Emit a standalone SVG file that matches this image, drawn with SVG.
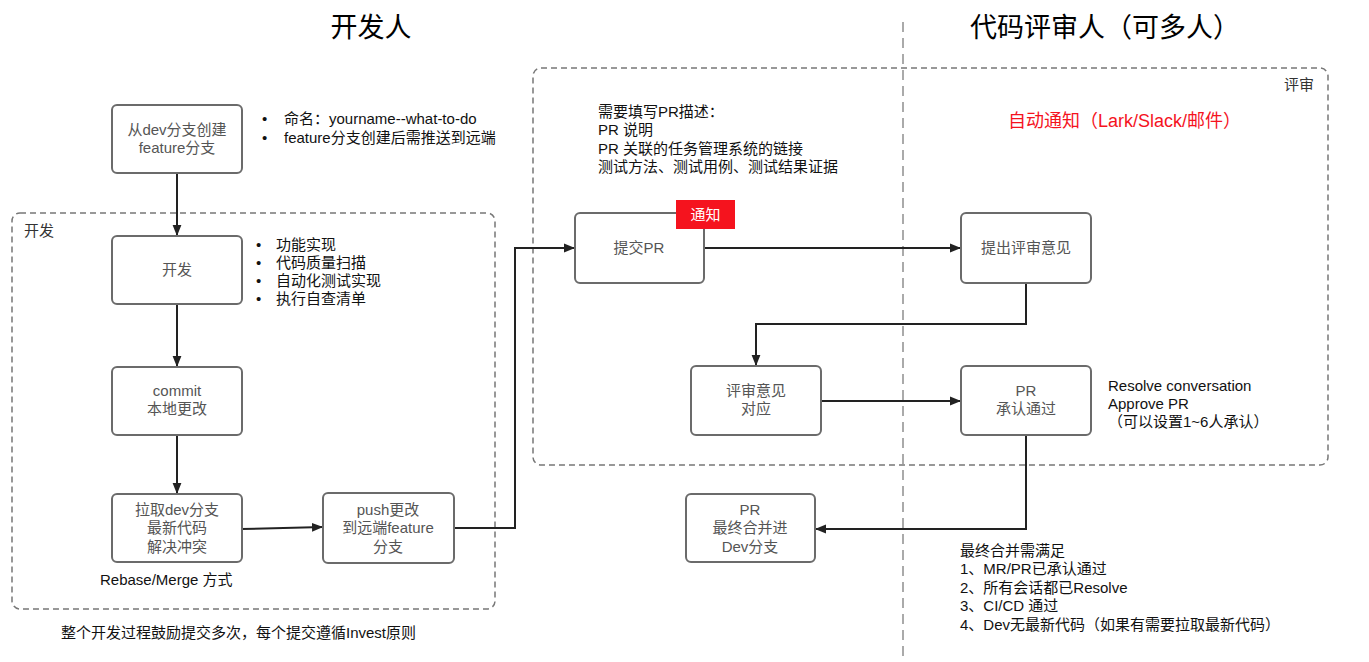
<svg xmlns="http://www.w3.org/2000/svg" width="1369" height="662" viewBox="0 0 1369 662">
<defs>
<style>
text{font-family:"Liberation Sans","Noto Sans CJK SC",sans-serif;}
.node rect.box{fill:#fff;stroke:#6b6b6b;stroke-width:2;}
.nt{font-size:15px;fill:#555;text-anchor:middle;}
.an{font-size:15px;fill:#111;}
.title{font-size:27px;fill:#000;text-anchor:middle;}
.grp{fill:none;stroke:#777;stroke-width:1.5;stroke-dasharray:6 4;}
.conn path{fill:none;stroke:#222;stroke-width:2;}
</style>
<marker id="arr" viewBox="0 0 10 10" refX="10" refY="5" markerWidth="11" markerHeight="11" markerUnits="userSpaceOnUse" orient="auto"><path d="M0,1 L10,5 L0,9 z" fill="#222"/></marker>
</defs>
<rect width="1369" height="662" fill="#fff"/>

<!-- swimlane divider and titles -->
<line x1="903" y1="22" x2="903" y2="662" stroke="#aaa" stroke-width="2" stroke-dasharray="10 6"/>
<text class="title" x="371" y="37">开发人</text>
<text class="title" x="1105" y="37">代码评审人（可多人）</text>

<!-- groups -->
<g id="group-dev">
<rect class="grp" x="12" y="213" width="483" height="396" rx="8"/>
<text x="24" y="236" font-size="15" fill="#333">开发</text>
</g>
<g id="group-review">
<rect class="grp" x="533" y="68" width="795" height="397" rx="8"/>
<text x="1284" y="90" font-size="15" fill="#333">评审</text>
</g>

<!-- connectors -->
<g id="connectors" class="conn">
<path d="M177,173 V236" marker-end="url(#arr)"/>
<path d="M177,304 V367" marker-end="url(#arr)"/>
<path d="M177,435 V494" marker-end="url(#arr)"/>
<path d="M241,529 L323,527" marker-end="url(#arr)"/>
<path d="M454,528 H515 V248 H575" marker-end="url(#arr)"/>
<path d="M704,248 H961" marker-end="url(#arr)"/>
<path d="M1026,283 V324 H756 V366" marker-end="url(#arr)"/>
<path d="M821,401 H961" marker-end="url(#arr)"/>
<path d="M1026,435 V529 H815" marker-end="url(#arr)"/>
</g>

<!-- nodes -->
<g id="node-create" class="node">
<rect class="box" x="112" y="105" width="130" height="68" rx="5"/>
<text class="nt" x="177" y="135">从dev分支创建</text>
<text class="nt" x="177" y="153">feature分支</text>
</g>
<g id="node-develop" class="node">
<rect class="box" x="112" y="236" width="130" height="68" rx="5"/>
<text class="nt" x="177" y="275">开发</text>
</g>
<g id="node-commit" class="node">
<rect class="box" x="112" y="367" width="130" height="68" rx="5"/>
<text class="nt" x="177" y="396">commit</text>
<text class="nt" x="177" y="414">本地更改</text>
</g>
<g id="node-pull" class="node">
<rect class="box" x="112" y="494" width="130" height="68" rx="5"/>
<text class="nt" x="177" y="515">拉取dev分支</text>
<text class="nt" x="177" y="533">最新代码</text>
<text class="nt" x="177" y="552">解决冲突</text>
</g>
<g id="node-push" class="node">
<rect class="box" x="323" y="493" width="131" height="70" rx="5"/>
<text class="nt" x="388" y="515">push更改</text>
<text class="nt" x="388" y="533">到远端feature</text>
<text class="nt" x="388" y="552">分支</text>
</g>
<g id="node-submit-pr" class="node">
<rect class="box" x="575" y="213" width="129" height="70" rx="5"/>
<text class="nt" x="639" y="253">提交PR</text>
</g>
<g id="node-notify" class="node">
<rect x="676" y="200" width="59" height="29" fill="#f5131e"/>
<text x="705.5" y="220" font-size="15" fill="#fff" text-anchor="middle">通知</text>
</g>
<g id="node-comment" class="node">
<rect class="box" x="961" y="213" width="130" height="70" rx="5"/>
<text class="nt" x="1026" y="253">提出评审意见</text>
</g>
<g id="node-respond" class="node">
<rect class="box" x="691" y="366" width="130" height="69" rx="5"/>
<text class="nt" x="756" y="396">评审意见</text>
<text class="nt" x="756" y="414">对应</text>
</g>
<g id="node-approve" class="node">
<rect class="box" x="961" y="366" width="130" height="69" rx="5"/>
<text class="nt" x="1026" y="396">PR</text>
<text class="nt" x="1026" y="414">承认通过</text>
</g>
<g id="node-merge" class="node">
<rect class="box" x="686" y="494" width="129" height="68" rx="5"/>
<text class="nt" x="750" y="515">PR</text>
<text class="nt" x="750" y="533">最终合并进</text>
<text class="nt" x="750" y="552">Dev分支</text>
</g>

<!-- annotations -->
<g id="annotations">
<text class="an" x="262" y="124">•</text>
<text class="an" x="284" y="124">命名：yourname--what-to-do</text>
<text class="an" x="262" y="143">•</text>
<text class="an" x="284" y="143">feature分支创建后需推送到远端</text>

<text class="an" x="256" y="250">•</text>
<text class="an" x="276" y="250">功能实现</text>
<text class="an" x="256" y="268">•</text>
<text class="an" x="276" y="268">代码质量扫描</text>
<text class="an" x="256" y="286">•</text>
<text class="an" x="276" y="286">自动化测试实现</text>
<text class="an" x="256" y="304">•</text>
<text class="an" x="276" y="304">执行自查清单</text>

<text class="an" x="100" y="585">Rebase/Merge 方式</text>
<text class="an" x="61" y="638">整个开发过程鼓励提交多次，每个提交遵循Invest原则</text>

<text class="an" x="598" y="117">需要填写PR描述：</text>
<text class="an" x="598" y="135">PR 说明</text>
<text class="an" x="598" y="154">PR 关联的任务管理系统的链接</text>
<text class="an" x="598" y="172">测试方法、测试用例、测试结果证据</text>

<text x="1008" y="127" font-size="18" fill="#f5131e">自动通知（Lark/Slack/邮件）</text>

<text class="an" x="1108" y="391">Resolve conversation</text>
<text class="an" x="1108" y="409">Approve PR</text>
<text class="an" x="1108" y="427">（可以设置1~6人承认）</text>

<text class="an" x="960" y="556">最终合并需满足</text>
<text class="an" x="960" y="574">1、MR/PR已承认通过</text>
<text class="an" x="960" y="593">2、所有会话都已Resolve</text>
<text class="an" x="960" y="611">3、CI/CD 通过</text>
<text class="an" x="960" y="630">4、Dev无最新代码（如果有需要拉取最新代码）</text>
</g>
</svg>
